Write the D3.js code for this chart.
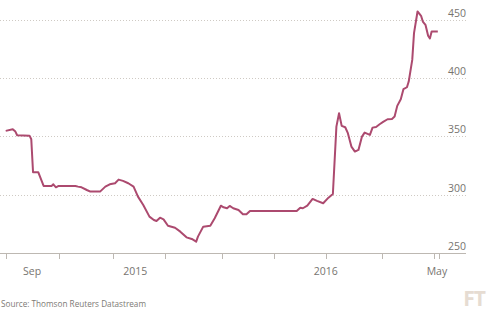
<!DOCTYPE html>
<html><head><meta charset="utf-8">
<script src="https://cdn.jsdelivr.net/npm/d3@7"></script>
<style>
html,body{margin:0;padding:0;background:#fff;}
svg{display:block;}
text{font-family:"Open Sans","Noto Sans",sans-serif;}
</style></head>
<body>
<svg id="c" width="500" height="323"></svg>
<script>
// day offsets from series start
const days = [0,8,11,13,27,29,31,37,43,52,54,57,60,79,82,86,92,96,107,113,118,124,128,133,139,145,150,156,163,168,171,175,179,184,192,198,205,211,216,218,224,232,237,244,247,251,254,258,264,269,273,277,330,334,337,342,348,353,360,366,371,375,378,381,385,388,392,396,400,404,407,413,416,420,424,428,433,438,441,444,448,451,455,457,461,463,467,471,473,476,479,481,483,490];
const values = [354.7,356.1,354.1,351,350.6,347.5,319.1,319.1,307.4,307.4,308.8,306.2,307.4,307.4,306.8,306.2,303.9,302.5,302.5,306.8,308.8,309.7,312.8,311.7,309.7,306.8,298.2,291,281,278.1,277.3,280.1,278.7,273.2,271.5,268.1,263.2,261.8,259.5,263.8,272.4,273.2,279.6,290.4,289,288.2,290.2,288.2,286.7,283,283,285.9,285.9,288.7,288.2,290.4,296.2,294.5,292.5,297.3,300.5,358.4,369.9,359,357.8,352.7,341.2,336.9,338.3,349.8,353.2,351.2,357.5,358.1,360.4,362.4,364.7,365,367,376.2,381.9,390.5,392.2,397.1,415.7,438.7,457.3,453.6,448.7,445.9,436.4,434.1,440.1,440.1];
const yTicks = [250,300,350,400,450];
const xTickDays = [0,61,122,181,245,304,363,427,486,491];
const xLabelDays = [30,147,363,489];
const xLabels = ["Sep","2015","2016","May"];

const svg = d3.select("#c");
const x = d3.scaleLinear().domain([0,491]).range([5.7,438.7]);
const y = d3.scaleLinear().domain([250,450]).range([252.7,20]);
const gridLeft = 0, gridRight = 466;

// gridlines
svg.append("g").selectAll("line").data(yTicks.filter(d=>d!==250)).join("line")
  .attr("x1",gridLeft).attr("x2",gridRight)
  .attr("y1",d=>Math.round(y(d))+0.5).attr("y2",d=>Math.round(y(d))+0.5)
  .attr("stroke","#cfcac4").attr("stroke-width",1).attr("stroke-dasharray","1,2");

// baseline
svg.append("line").attr("x1",gridLeft).attr("x2",gridRight)
  .attr("y1",Math.round(y(250))+0.5).attr("y2",Math.round(y(250))+0.5)
  .attr("stroke","#bdb8b2").attr("stroke-width",1);

// y labels
svg.append("g").selectAll("text").data(yTicks).join("text")
  .attr("x",gridRight).attr("y",d=>y(d)-3)
  .attr("text-anchor","end").attr("font-size",10.5).attr("fill","#77746f")
  .text(d=>d);

// x ticks
svg.append("g").selectAll("line").data(xTickDays).join("line")
  .attr("x1",d=>Math.round(x(d))+0.5).attr("x2",d=>Math.round(x(d))+0.5)
  .attr("y1",Math.round(y(250))).attr("y2",Math.round(y(250))+6)
  .attr("stroke","#bdb8b2").attr("stroke-width",1);

// x labels
svg.append("g").selectAll("text").data(xLabelDays).join("text")
  .attr("x",d=>x(d)).attr("y",275)
  .attr("text-anchor","middle").attr("font-size",10.5).attr("fill","#77746f")
  .text((d,i)=>xLabels[i]);

// line
const pts = days.map((d,i)=>[d,values[i]]);
svg.append("path").datum(pts)
  .attr("fill","none").attr("stroke","#ac4a6f").attr("stroke-width",2)
  .attr("stroke-linejoin","round")
  .attr("d",d3.line().x(d=>x(d[0])).y(d=>y(d[1])));

// source
svg.append("text").attr("x",1).attr("y",307).attr("font-size",8.2).attr("fill","#7d7a75")
  .text("Source: Thomson Reuters Datastream");

// FT logo
svg.append("text").attr("x",474).attr("y",306).attr("text-anchor","middle")
  .attr("font-family","'Liberation Serif',serif").attr("font-size",21).attr("font-weight","bold")
  .attr("fill","#e6dcd2").attr("letter-spacing","-1").text("FT");
</script>
</body></html>
